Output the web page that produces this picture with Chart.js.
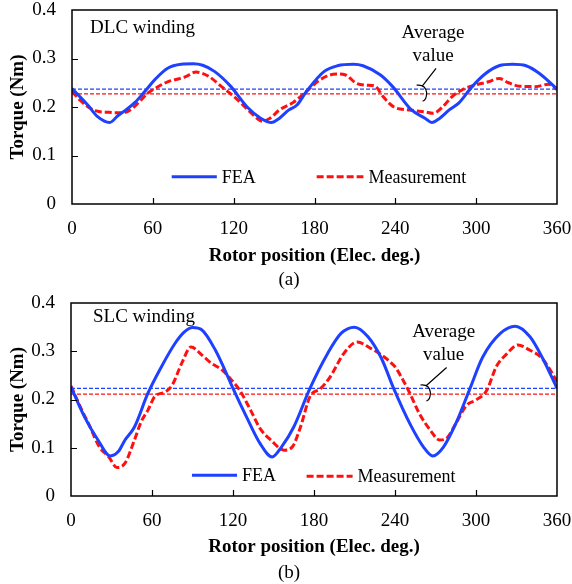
<!DOCTYPE html>
<html>
<head>
<meta charset="utf-8">
<script src="https://cdn.jsdelivr.net/npm/chart.js@4.4.1/dist/chart.umd.min.js"></script>
<style>
  html, body { margin: 0; padding: 0; background: #fff; }
  #wrap { position: relative; width: 572px; height: 584px; }
  canvas { position: absolute; left: 0; }
</style>
</head>
<body>
<div id="wrap">
  <canvas id="dlcChart" width="572" height="290" style="top:0"></canvas>
  <canvas id="slcChart" width="572" height="294" style="top:290px"></canvas>
</div>
<script>
// Torque vs rotor position, (a) DLC winding, (b) SLC winding
const xTicks = [0, 60, 120, 180, 240, 300, 360];
const yTicks = [0, 0.1, 0.2, 0.3, 0.4];

const dlcFeaDeg = [0, 12, 19, 28, 34, 40, 47, 54, 62, 71, 81, 90, 97, 106, 118, 130, 140, 148, 154, 161, 167, 174, 187, 197, 209, 216, 229, 238, 252, 262, 267, 273, 280, 287, 297, 307, 317, 327, 337, 347, 360];
const dlcFeaVal = [0.238, 0.203, 0.180, 0.168, 0.182, 0.194, 0.210, 0.232, 0.258, 0.280, 0.288, 0.289, 0.286, 0.273, 0.242, 0.200, 0.177, 0.168, 0.177, 0.194, 0.204, 0.232, 0.273, 0.285, 0.288, 0.285, 0.266, 0.242, 0.194, 0.177, 0.168, 0.177, 0.194, 0.208, 0.242, 0.269, 0.285, 0.288, 0.285, 0.269, 0.237];
const dlcMeasDeg = [0, 6, 12, 18, 27, 38, 46, 51, 56, 64, 71, 84, 92, 101, 111, 120, 127, 136, 141, 147, 154, 164, 174, 184, 196, 203, 211, 219, 225, 231, 239, 250, 262, 268, 275, 282, 290, 299, 309, 317, 324, 332, 344, 354, 360];
const dlcMeasVal = [0.232, 0.214, 0.200, 0.192, 0.189, 0.188, 0.200, 0.214, 0.228, 0.242, 0.252, 0.262, 0.272, 0.264, 0.242, 0.222, 0.204, 0.180, 0.171, 0.177, 0.194, 0.209, 0.232, 0.256, 0.268, 0.266, 0.249, 0.245, 0.243, 0.221, 0.200, 0.194, 0.190, 0.187, 0.200, 0.221, 0.236, 0.245, 0.252, 0.259, 0.250, 0.243, 0.242, 0.247, 0.236];
const dlcFeaAvg = 0.237;
const dlcMeasAvg = 0.227;

const slcFeaDeg = [0, 10, 20, 29, 35, 40, 47, 57, 67, 77, 84, 90, 97, 107, 114, 120, 130, 140, 149, 156, 165, 177, 190, 200, 210, 220, 230, 239, 251, 261, 268, 276, 285, 295, 305, 318, 329, 340, 350, 360];
const slcFeaVal = [0.226, 0.164, 0.116, 0.083, 0.092, 0.116, 0.143, 0.213, 0.268, 0.316, 0.340, 0.349, 0.344, 0.302, 0.261, 0.223, 0.164, 0.109, 0.081, 0.102, 0.143, 0.223, 0.295, 0.337, 0.350, 0.330, 0.285, 0.223, 0.150, 0.102, 0.083, 0.102, 0.150, 0.219, 0.288, 0.337, 0.352, 0.330, 0.282, 0.223];
const slcMeasDeg = [0, 8, 13, 21, 28, 34, 40, 47, 52, 57, 62, 70, 75, 82, 89, 97, 104, 112, 119, 125, 133, 140, 148, 158, 164, 170, 177, 185, 192, 202, 212, 222, 232, 239, 241, 246, 251, 258, 266, 273, 278, 285, 293, 300, 308, 315, 323, 331, 340, 348, 355, 360];
const slcMeasVal = [0.228, 0.178, 0.150, 0.102, 0.081, 0.059, 0.068, 0.116, 0.154, 0.178, 0.206, 0.216, 0.230, 0.275, 0.309, 0.292, 0.275, 0.261, 0.240, 0.219, 0.178, 0.140, 0.116, 0.095, 0.102, 0.143, 0.206, 0.223, 0.247, 0.295, 0.319, 0.306, 0.288, 0.271, 0.264, 0.240, 0.213, 0.171, 0.137, 0.116, 0.119, 0.150, 0.188, 0.199, 0.219, 0.268, 0.295, 0.313, 0.302, 0.288, 0.261, 0.237];
const slcFeaAvg = 0.223;
const slcMeasAvg = 0.211;

const BLUE = '#1e40ff';
const RED = '#ff1010';
const SERIF = '"Liberation Serif", "Times New Roman", serif';

const toPoints = (xs, ys) => xs.map((x, i) => ({ x, y: ys[i] }));

// frame, inward ticks, titles, legend and the "Average value" callout
const decor = {
    id: 'decor',
    afterDraw(chart, args, o) {
        const { ctx, chartArea: a, scales: { x, y } } = chart;
        ctx.save();
        ctx.strokeStyle = '#000';
        ctx.lineWidth = 1.5;
        ctx.strokeRect(a.left, a.top, a.right - a.left, a.bottom - a.top);

        ctx.lineWidth = 1.2;
        ctx.beginPath();
        xTicks.slice(1, -1).forEach(t => {
            const px = Math.round(x.getPixelForValue(t)) + 0.5;
            ctx.moveTo(px, a.bottom); ctx.lineTo(px, a.bottom - 6);
        });
        yTicks.slice(1, -1).forEach(t => {
            const py = Math.round(y.getPixelForValue(t)) + 0.5;
            ctx.moveTo(a.left, py); ctx.lineTo(a.left + 6, py);
        });
        ctx.stroke();

        ctx.fillStyle = '#000';
        ctx.textBaseline = 'middle';
        ctx.textAlign = 'center';
        ctx.font = 'bold 19px ' + SERIF;
        ctx.fillText('Rotor position (Elec. deg.)', (a.left + a.right) / 2, o.xTitleY);
        ctx.save();
        ctx.translate(18, (a.top + a.bottom) / 2);
        ctx.rotate(-Math.PI / 2);
        ctx.fillText('Torque (Nm)', 0, 0);
        ctx.restore();

        ctx.font = '19px ' + SERIF;
        ctx.fillText(o.caption, 289, o.captionY);

        ctx.textAlign = 'left';
        ctx.fillText(o.name, x.getPixelForValue(o.namePos[0]), y.getPixelForValue(o.namePos[1]));

        // legend
        ctx.font = '18px ' + SERIF;
        const ds = chart.data.datasets;
        o.legend.forEach((item, i) => {
            const d = ds[i];
            const x0 = x.getPixelForValue(item[0]), x1 = x.getPixelForValue(item[1]);
            const py = y.getPixelForValue(item[2]);
            ctx.save();
            ctx.strokeStyle = d.borderColor;
            ctx.lineWidth = d.borderWidth;
            ctx.setLineDash(d.borderDash || []);
            ctx.beginPath(); ctx.moveTo(x0, py); ctx.lineTo(x1, py); ctx.stroke();
            ctx.restore();
            ctx.fillText(d.label, x1 + 5, py + 1);
        });

        // Average value callout
        ctx.font = '19px ' + SERIF;
        ctx.textAlign = 'center';
        const cx = x.getPixelForValue(o.avgText[0]);
        const cy = y.getPixelForValue(o.avgText[1]);
        ctx.fillText('Average', cx, cy);
        ctx.fillText('value', cx, cy + 23);
        const bx = x.getPixelForValue(o.brace[0]);
        const bTop = y.getPixelForValue(o.brace[1]);
        const bBot = y.getPixelForValue(o.brace[2]);
        const bMid = (bTop + bBot) / 2;
        ctx.strokeStyle = '#000';
        ctx.lineWidth = 1.2;
        ctx.beginPath();
        ctx.moveTo(bx - 7, bTop);
        ctx.quadraticCurveTo(bx + 2, bTop - 1, bx + 3, bMid);
        ctx.quadraticCurveTo(bx + 3, bBot, bx - 1, bBot + 1);
        ctx.moveTo(bx - 1, bTop + 0.5);
        ctx.lineTo(cx + 3, cy + 35);
        ctx.stroke();
        ctx.restore();
    }
};

function makeChart(id, feaDeg, feaVal, measDeg, measVal, feaAvg, measAvg, leftW, bottomH, topPad, deco) {
    const line = (label, pts, color, dash, width) => ({
        label, data: pts, borderColor: color, borderWidth: width, borderDash: dash,
        pointRadius: 0, fill: false, cubicInterpolationMode: 'monotone'
    });
    const avg = (v, color) => ({
        label: '', data: [{ x: 0, y: v }, { x: 360, y: v }], borderColor: color,
        borderWidth: 1.3, borderDash: [4, 2], pointRadius: 0, fill: false
    });
    return new Chart(document.getElementById(id), {
        type: 'line',
        data: {
            datasets: [
                line('FEA', toPoints(feaDeg, feaVal), BLUE, [], 3),
                line('Measurement', toPoints(measDeg, measVal), RED, [7, 3], 3),
                avg(feaAvg, BLUE),
                avg(measAvg, RED)
            ]
        },
        options: {
            responsive: false,
            animation: false,
            devicePixelRatio: 1,
            layout: { padding: { left: 0, right: 15, top: topPad, bottom: 0 } },
            plugins: { legend: { display: false }, tooltip: { enabled: false }, decor: deco },
            scales: {
                x: {
                    type: 'linear', min: 0, max: 360,
                    afterBuildTicks: s => { s.ticks = xTicks.map(v => ({ value: v })); },
                    afterFit: s => { s.height = bottomH; s.paddingLeft = 0; s.paddingRight = 0; },
                    grid: { display: false, drawTicks: false },
                    border: { display: false },
                    ticks: { color: '#000', font: { family: SERIF, size: 19 }, padding: 14, maxRotation: 0 }
                },
                y: {
                    min: 0, max: 0.4,
                    afterBuildTicks: s => { s.ticks = yTicks.map(v => ({ value: v })); },
                    afterFit: s => { s.width = leftW; s.paddingTop = 0; s.paddingBottom = 0; },
                    grid: { display: false, drawTicks: false },
                    border: { display: false },
                    ticks: { color: '#000', font: { family: SERIF, size: 19 }, padding: 16 }
                }
            }
        },
        plugins: [decor]
    });
}

makeChart('dlcChart', dlcFeaDeg, dlcFeaVal, dlcMeasDeg, dlcMeasVal, dlcFeaAvg, dlcMeasAvg, 72, 86, 10, {
    xTitleY: 256, caption: '(a)', captionY: 280, name: 'DLC winding', namePos: [13.4, 0.362],
    legend: [[74, 107.5, 0.056], [181.6, 216.3, 0.056]],
    avgText: [268, 0.352], brace: [261, 0.245, 0.214]
});
makeChart('slcChart', slcFeaDeg, slcFeaVal, slcMeasDeg, slcMeasVal, slcFeaAvg, slcMeasAvg, 71, 88, 13, {
    xTitleY: 257, caption: '(b)', captionY: 283, name: 'SLC winding', namePos: [16.3, 0.371],
    legend: [[89.6, 123, 0.043], [174.5, 208.6, 0.041]],
    avgText: [276, 0.339], brace: [264, 0.23, 0.199]
});
</script>
</body>
</html>
